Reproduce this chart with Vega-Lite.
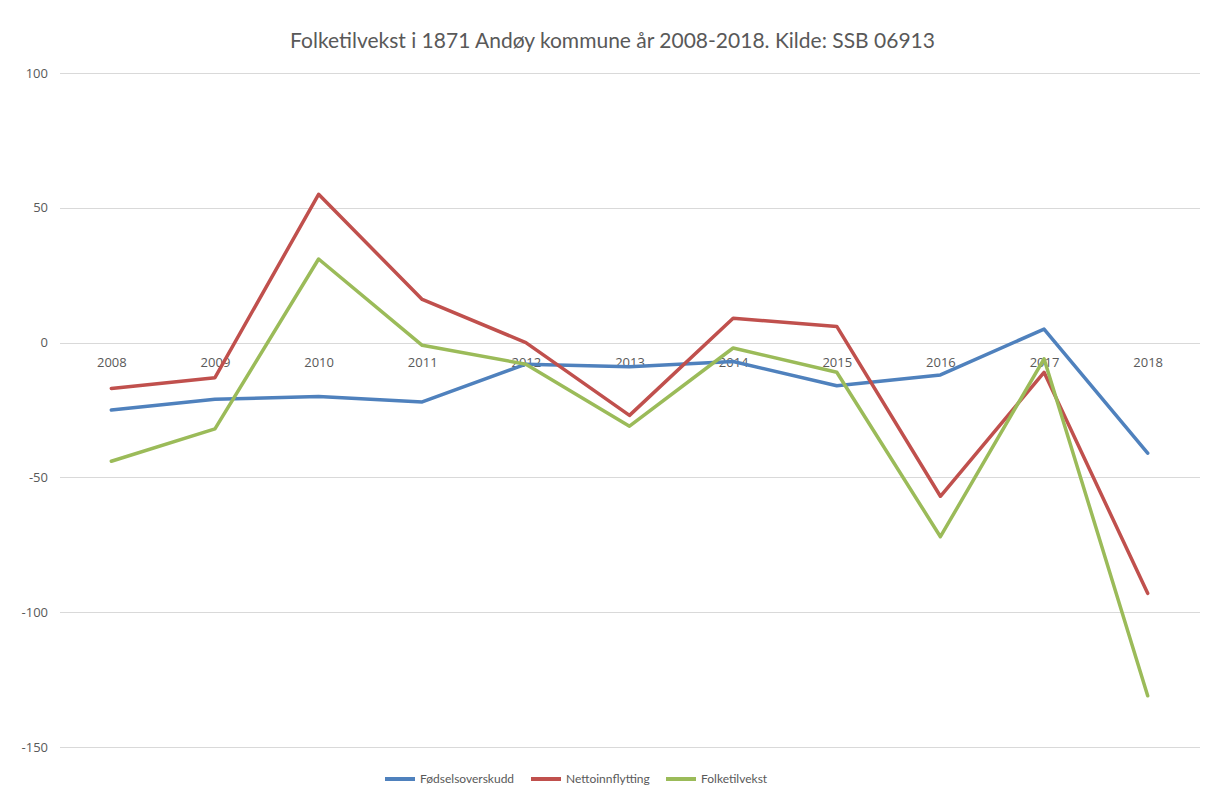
{
  "$schema": "https://vega.github.io/schema/vega-lite/v6.json",
  "width": 1140,
  "height": 674,
  "autosize": "none",
  "padding": {"left": 59.5, "top": 73, "right": 6.5, "bottom": 51},
  "background": "white",
  "title": {
    "text": "Folketilvekst i 1871 Andøy kommune år 2008-2018.  Kilde:  SSB 06913",
    "font": "Lato",
    "fontSize": 21,
    "fontWeight": "normal",
    "color": "#595959",
    "anchor": "middle",
    "dx": -17,
    "offset": 15
  },
  "config": {
    "view": {"stroke": null},
    "axis": {"labelFont": "Open Sans", "labelFontSize": 13, "labelColor": "#595959"}
  },
  "data": {
    "values": [
      {"year": "2008", "serie": "Fødselsoverskudd", "value": -25},
      {"year": "2009", "serie": "Fødselsoverskudd", "value": -21},
      {"year": "2010", "serie": "Fødselsoverskudd", "value": -20},
      {"year": "2011", "serie": "Fødselsoverskudd", "value": -22},
      {"year": "2012", "serie": "Fødselsoverskudd", "value": -8},
      {"year": "2013", "serie": "Fødselsoverskudd", "value": -9},
      {"year": "2014", "serie": "Fødselsoverskudd", "value": -7},
      {"year": "2015", "serie": "Fødselsoverskudd", "value": -16},
      {"year": "2016", "serie": "Fødselsoverskudd", "value": -12},
      {"year": "2017", "serie": "Fødselsoverskudd", "value": 5},
      {"year": "2018", "serie": "Fødselsoverskudd", "value": -41},
      {"year": "2008", "serie": "Nettoinnflytting", "value": -17},
      {"year": "2009", "serie": "Nettoinnflytting", "value": -13},
      {"year": "2010", "serie": "Nettoinnflytting", "value": 55},
      {"year": "2011", "serie": "Nettoinnflytting", "value": 16},
      {"year": "2012", "serie": "Nettoinnflytting", "value": 0},
      {"year": "2013", "serie": "Nettoinnflytting", "value": -27},
      {"year": "2014", "serie": "Nettoinnflytting", "value": 9},
      {"year": "2015", "serie": "Nettoinnflytting", "value": 6},
      {"year": "2016", "serie": "Nettoinnflytting", "value": -57},
      {"year": "2017", "serie": "Nettoinnflytting", "value": -11},
      {"year": "2018", "serie": "Nettoinnflytting", "value": -93},
      {"year": "2008", "serie": "Folketilvekst", "value": -44},
      {"year": "2009", "serie": "Folketilvekst", "value": -32},
      {"year": "2010", "serie": "Folketilvekst", "value": 31},
      {"year": "2011", "serie": "Folketilvekst", "value": -1},
      {"year": "2012", "serie": "Folketilvekst", "value": -8},
      {"year": "2013", "serie": "Folketilvekst", "value": -31},
      {"year": "2014", "serie": "Folketilvekst", "value": -2},
      {"year": "2015", "serie": "Folketilvekst", "value": -11},
      {"year": "2016", "serie": "Folketilvekst", "value": -72},
      {"year": "2017", "serie": "Folketilvekst", "value": -6},
      {"year": "2018", "serie": "Folketilvekst", "value": -131}
    ]
  },
  "mark": {"type": "line", "strokeWidth": 3.5, "strokeCap": "round", "strokeJoin": "round"},
  "encoding": {
    "x": {
      "field": "year",
      "type": "ordinal",
      "scale": {"type": "point", "padding": 0.5},
      "axis": {
        "title": null,
        "labelAngle": 0,
        "domain": false,
        "ticks": false,
        "grid": false,
        "offset": -404.3,
        "labelPadding": 14
      }
    },
    "y": {
      "field": "value",
      "type": "quantitative",
      "scale": {"domain": [-150, 100], "nice": false, "zero": false},
      "axis": {
        "title": null,
        "values": [-150, -100, -50, 0, 50, 100],
        "labelExpr": "datum.value + ''",
        "domain": false,
        "ticks": false,
        "grid": true,
        "gridColor": "#d9d9d9",
        "gridWidth": 1,
        "labelPadding": 12
      }
    },
    "color": {
      "field": "serie",
      "type": "nominal",
      "sort": ["Fødselsoverskudd", "Nettoinnflytting", "Folketilvekst"],
      "scale": {
        "domain": ["Fødselsoverskudd", "Nettoinnflytting", "Folketilvekst"],
        "range": ["#4f81bd", "#c0504d", "#9bbb59"]
      },
      "legend": {
        "title": null,
        "orient": "none",
        "direction": "horizontal",
        "legendX": 323.5,
        "legendY": 689,
        "padding": 0,
        "symbolType": "stroke",
        "symbolSize": 900,
        "symbolStrokeWidth": 4,
        "labelFont": "Lato",
        "labelFontSize": 12,
        "labelColor": "#595959",
        "labelOffset": 3,
        "columnPadding": 8
      }
    }
  }
}
